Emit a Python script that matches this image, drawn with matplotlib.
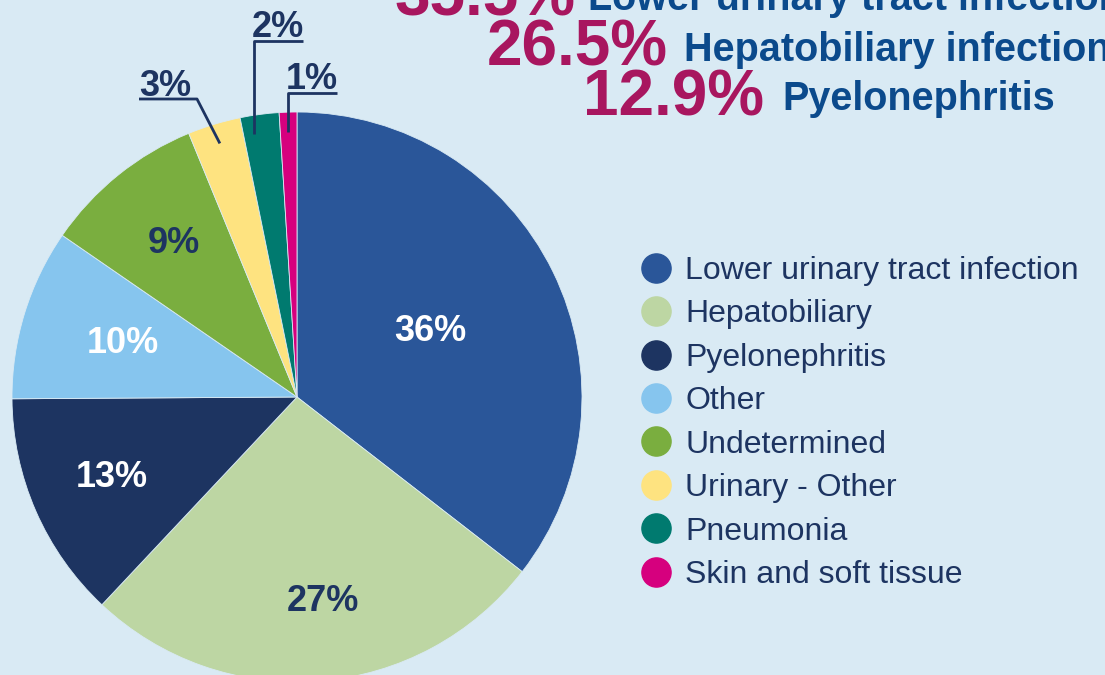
import numpy as np
import matplotlib
matplotlib.use("Agg")
import matplotlib.pyplot as plt
from matplotlib.lines import Line2D

W, H = 1105, 675
BG = "#D9EAF4"
NAVY = "#1D3461"

# slice data (clockwise from 12 o'clock)
categories = ["Lower urinary tract infection", "Hepatobiliary", "Pyelonephritis", "Other",
              "Undetermined", "Urinary - Other", "Pneumonia", "Skin and soft tissue"]
shares = [35.5, 26.5, 12.9, 9.7, 9.2, 3.0, 2.2, 1.0]
share_labels = ["36%", "27%", "13%", "10%", "9%", "3%", "2%", "1%"]
colors = ["#2A5699", "#BDD6A3", "#1D3461", "#86C5EE", "#7AAE3F", "#FEE380", "#007A6F", "#D6007E"]

# headline figures
headline_pcts = ["35.5%", "26.5%", "12.9%"]
headline_names = ["Lower urinary tract infection", "Hepatobiliary infection", "Pyelonephritis"]

plt.rcParams["font.family"] = ["Liberation Sans", "DejaVu Sans"]

fig = plt.figure(figsize=(W / 100, H / 100), dpi=100, facecolor=BG)

# pie centre (297, 397) px, radius 285 px
cx, cy, R = 297, 397, 285
ax = fig.add_axes([(cx - R) / W, (H - cy - R) / H, 2 * R / W, 2 * R / H])
ax.set_facecolor(BG)
wedges, _ = ax.pie(shares, colors=colors, startangle=90, counterclock=False, radius=1,
                   wedgeprops=dict(edgecolor=BG, linewidth=0.6))
ax.set_aspect("equal")
ax.set_xlim(-1, 1)
ax.set_ylim(-1, 1)
ax.axis("off")


def to_data(px, py):
    return (px - cx) / R, (cy - py) / R


def mid_point(w, r):
    a = np.deg2rad((w.theta1 + w.theta2) / 2)
    return r * np.cos(a), r * np.sin(a)


# labels inside the big slices
inner_r = [0.52, 0.72, 0.71, 0.64, 0.69]
inner_col = ["white", NAVY, "white", "white", NAVY]
for i, r in enumerate(inner_r):
    x, y = mid_point(wedges[i], r)
    if i == 1:
        x += 10 / R
    ax.text(x, y, share_labels[i], ha="center", va="center", fontsize=26,
            fontweight="bold", color=inner_col[i])

# small slices: underlined labels with leader lines
# (text left px, baseline px, underline px, elbow on left?)
outer = {5: (139, 96, 99, False), 6: (252, 37, 41, True), 7: (286, 89, 93, True)}
for i, (tx, ty, uy, left_elbow) in outer.items():
    ax_, ay_ = mid_point(wedges[i], 0.93)
    ax.text(*to_data(tx, ty), share_labels[i], ha="left", va="baseline",
            fontsize=26, fontweight="bold", color=NAVY)
    ul_w = 51 if i != 5 else 58
    x0, y0 = to_data(tx, uy)
    x1, _ = to_data(tx + ul_w, uy)
    if left_elbow:
        ax_ = (tx + 2 - cx) / R
        ax.plot([x1, x0 + 2 / R, ax_], [y0, y0, ay_], color=NAVY, lw=2, clip_on=False,
                solid_capstyle="butt")
    else:
        ax.plot([x0, x1, ax_], [y0, y0, ay_], color=NAVY, lw=2, clip_on=False,
                solid_capstyle="butt")

# legend
handles = [Line2D([], [], ls="", marker="o", ms=21, color=c) for c in colors]
fig.legend(handles, categories, loc="upper left",
           bbox_to_anchor=(642 / W, 1 - 256 / H), frameon=False,
           fontsize=23, labelcolor=NAVY, handlelength=0.9, handletextpad=0.45,
           labelspacing=0.42, borderpad=0, borderaxespad=0)

# headline block at the top
pct_right = [575, 668, 764]
name_left = [588, 684, 782]
base_y = [15, 66, 115]
for k in range(3):
    fig.text(pct_right[k] / W, 1 - base_y[k] / H, headline_pcts[k], ha="right", va="baseline",
             fontsize=46, fontweight="bold", color="#A8165F")
    fig.text(name_left[k] / W, 1 - (base_y[k] - 5) / H, headline_names[k], ha="left",
             va="baseline", fontsize=28.5, fontweight="bold", color="#0B4A8C")

fig.savefig("out.png", dpi=100, facecolor=BG)
